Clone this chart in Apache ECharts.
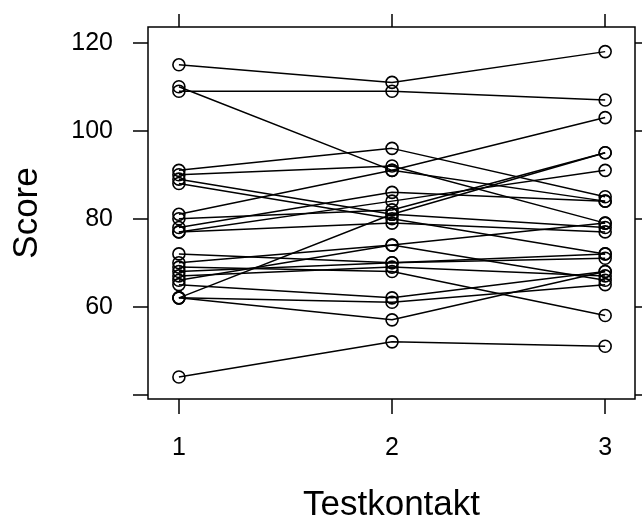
<!DOCTYPE html>
<html>
<head>
<meta charset="utf-8">
<script src="https://cdn.jsdelivr.net/npm/echarts@6/dist/echarts.min.js"></script>
<style>
html,body{margin:0;padding:0;background:#fff;}
#chart{width:642px;height:516px;}
</style>
</head>
<body>
<div id="chart"></div>
<script>
// Test contacts (x positions)
var testkontakt = [1, 2, 3];
// Score of each subject at contact 1, 2, 3
var scoreT1 = [115,110,109,91,90,89,88,81,80,78,77,77,72,70,69,68,67,66,65,62,62,62,44];
var scoreT2 = [111,91,109,96,92,81,80,91,82,86,84,79,70,74,68,70,69,74,62,81,61,57,52];
var scoreT3 = [118,84,107,85,79,78,72,103,95,84,91,77,71,79,58,72,67,66,68,95,65,68,51];
// Tick labels
var yTicks = [40, 60, 80, 100, 120];
var yTickLabels = [60, 80, 100, 120];
var xTickLabels = [1, 2, 3];

var series = [];
for (var i = 0; i < scoreT1.length; i++) {
  series.push({
    type: 'line',
    xAxisIndex: 0,
    yAxisIndex: 0,
    data: [[testkontakt[0], scoreT1[i]], [testkontakt[1], scoreT2[i]], [testkontakt[2], scoreT3[i]]],
    symbol: 'circle',
    symbolSize: 12,
    lineStyle: { color: '#000', width: 1.5 },
    itemStyle: { color: 'rgba(0,0,0,0)', borderColor: '#000', borderWidth: 1.6 },
    emphasis: { disabled: true },
    silent: true,
    animation: false
  });
}

var font = 'Liberation Sans, Arial, sans-serif';
var chart = echarts.init(document.getElementById('chart'), null, { renderer: 'canvas' });
chart.setOption({
  backgroundColor: '#fff',
  animation: false,
  grid: {
    left: 148, right: 7, top: 27, bottom: 117,
    containLabel: false, outerBoundsMode: 'none',
    show: true, borderColor: '#000', borderWidth: 1.5, backgroundColor: 'transparent'
  },
  xAxis: [{
    type: 'value', position: 'bottom', min: 0.855, max: 3.14,
    name: 'Testkontakt', nameLocation: 'middle', nameGap: 89,
    nameTextStyle: { fontFamily: font, fontSize: 35, color: '#000' },
    axisLine: { show: false },
    splitLine: { show: false },
    axisTick: { show: true, inside: false, length: 15, customValues: xTickLabels, lineStyle: { color: '#000', width: 1.5 } },
    axisLabel: { show: true, customValues: xTickLabels, margin: 37, fontFamily: font, fontSize: 25, color: '#000' }
  }, {
    type: 'value', position: 'top', min: 0.855, max: 3.14,
    axisLine: { show: false },
    splitLine: { show: false },
    axisTick: { show: true, inside: false, length: 13, customValues: xTickLabels, lineStyle: { color: '#000', width: 1.5 } },
    axisLabel: { show: false }
  }],
  yAxis: [{
    type: 'value', position: 'left', min: 39, max: 123.6,
    name: 'Score', nameLocation: 'middle', nameGap: 103, nameRotate: 90,
    nameTextStyle: { fontFamily: font, fontSize: 35, color: '#000' },
    axisLine: { show: false },
    splitLine: { show: false },
    axisTick: { show: true, inside: false, length: 15, customValues: yTicks, lineStyle: { color: '#000', width: 1.5 } },
    axisLabel: { show: true, customValues: yTickLabels, margin: 35, fontFamily: font, fontSize: 25, color: '#000' }
  }, {
    type: 'value', position: 'right', min: 39, max: 123.6,
    axisLine: { show: false },
    splitLine: { show: false },
    axisTick: { show: true, inside: false, length: 10, customValues: yTicks, lineStyle: { color: '#000', width: 1.5 } },
    axisLabel: { show: false }
  }],
  series: series
});
</script>
</body>
</html>
